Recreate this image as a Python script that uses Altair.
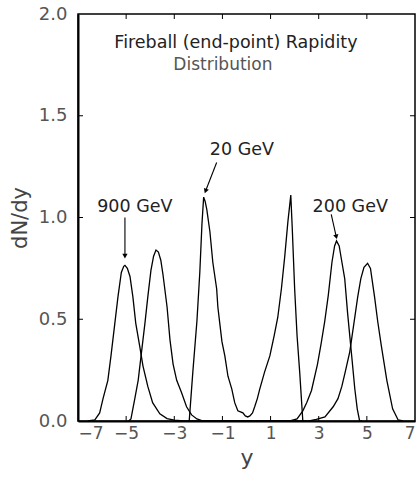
import altair as alt
import pandas as pd

# ---- curve data (rapidity y, dN/dy) ----
x900 = [-6.6, -6.3, -6.1, -5.96, -5.76, -5.63, -5.47, -5.34, -5.2, -5.1, -5.05, -4.95, -4.84, -4.72,
        -4.6, -4.44, -4.3, -4.1, -3.9, -3.6, -3.3, -3.0, -2.6,
        2.6, 2.9, 3.26, 3.6, 3.8, 3.96, 4.1, 4.29, 4.45, 4.62, 4.75, 4.88, 5.03, 5.15, 5.32, 5.45,
        5.6, 5.83, 6.07, 6.3, 6.5]
v900 = [0.0, 0.005, 0.04, 0.11, 0.2, 0.32, 0.48, 0.61, 0.73, 0.76, 0.765, 0.75, 0.71, 0.61,
        0.48, 0.37, 0.27, 0.17, 0.09, 0.035, 0.012, 0.004, 0.0,
        0.0, 0.008, 0.02, 0.07, 0.11, 0.17, 0.24, 0.34, 0.47, 0.61, 0.7, 0.755, 0.775, 0.75, 0.61, 0.49,
        0.37, 0.2, 0.06, 0.005, 0.0]

x200 = [-4.9, -4.8, -4.64, -4.5, -4.38, -4.22, -4.1, -3.97, -3.86, -3.76, -3.66, -3.56, -3.47, -3.3,
        -3.18, -3.05, -2.9, -2.7, -2.49, -2.28, -2.06, -1.8,
        1.8, 2.1, 2.34, 2.5, 2.7, 2.95, 3.1, 3.25, 3.4, 3.55, 3.66, 3.74, 3.85, 3.95, 4.08, 4.2,
        4.37, 4.5, 4.6, 4.7, 4.8]
v200 = [0.0, 0.01, 0.11, 0.2, 0.32, 0.48, 0.61, 0.74, 0.81, 0.84, 0.83, 0.79, 0.72, 0.56,
        0.40, 0.28, 0.2, 0.14, 0.07, 0.03, 0.01, 0.0,
        0.0, 0.01, 0.05, 0.09, 0.15, 0.28, 0.38, 0.49, 0.62, 0.78, 0.86, 0.885, 0.86, 0.79, 0.70, 0.53,
        0.32, 0.157, 0.06, 0.0, 0.0]

x20 = [-2.4, -2.38, -2.23, -2.06, -1.94, -1.85, -1.78, -1.72, -1.65, -1.52, -1.4, -1.24, -1.19, -1.1,
       -1.02, -0.9, -0.77, -0.61, -0.49, -0.36, -0.25, -0.15, -0.05, 0.05, 0.14, 0.25, 0.34, 0.45,
       0.55, 0.75, 0.97, 1.15, 1.3, 1.45, 1.59, 1.72, 1.84, 1.9, 2.0, 2.1, 2.21, 2.34, 2.4]
v20 = [0.0, 0.0, 0.24, 0.49, 0.73, 0.97, 1.10, 1.08, 1.04, 0.93, 0.78, 0.65, 0.56, 0.47,
       0.39, 0.32, 0.22, 0.157, 0.09, 0.05, 0.045, 0.04, 0.025, 0.02, 0.025, 0.04, 0.07, 0.11,
       0.157, 0.24, 0.32, 0.42, 0.51, 0.65, 0.81, 0.98, 1.11, 0.95, 0.65, 0.42, 0.24, 0.0, 0.0]

# ---- axes ----
x_tick_labels = [-7, -5, -3, -1, 1, 3, 5, 7]
x_inner_ticks = [-5, -3, -1, 1, 3, 5]
y_tick_labels = [0.0, 0.5, 1.0, 1.5, 2.0]
y_inner_ticks = [0.5, 1.0, 1.5]

# ---- annotations ----
title_text = ["Fireball (end-point) Rapidity", "Distribution"]
title_x = [-0.44, -0.98]
title_y = [1.857, 1.75]

label_text = ["900 GeV", "20 GeV", "200 GeV"]
label_x = [-4.64, -0.19, 4.31]
label_y = [1.05, 1.33, 1.05]
arrow_x = [-5.05, -1.24, 3.52]
arrow_y = [1.0, 1.27, 1.015]
arrow_x2 = [-5.05, -1.70, 3.73]
arrow_y2 = [0.81, 1.13, 0.905]
arrow_angle = [0, 21, 347]

W, H = 337, 407
FONT = "DejaVu Sans"

rows = []
for name, xs, vs in [("900 GeV", x900, v900), ("200 GeV", x200, v200), ("20 GeV", x20, v20)]:
    for i, (a, b) in enumerate(zip(xs, vs)):
        rows.append({"series": name, "y": a, "dndy": b, "i": i})
curves = pd.DataFrame(rows)

xs = alt.Scale(domain=[-7, 7], nice=False, zero=False)
ys = alt.Scale(domain=[0, 2], nice=False)

lines = alt.Chart(curves).mark_line(color="black", strokeWidth=1.3, clip=True).encode(
    x=alt.X("y:Q", scale=xs,
            axis=alt.Axis(values=x_tick_labels, format="d", ticks=False, grid=False,
                          domainColor="black", domainWidth=2, labelFont=FONT, labelFontSize=17,
                          labelColor="#555", labelPadding=4, title="y", titleFont=FONT,
                          titleFontSize=22, titleFontWeight="normal", titleColor="#444",
                          titlePadding=6)),
    y=alt.Y("dndy:Q", scale=ys,
            axis=alt.Axis(values=y_tick_labels, format=".1f", ticks=False, grid=False,
                          domainColor="black", domainWidth=2, labelFont=FONT, labelFontSize=18,
                          labelColor="#555", labelPadding=11, title="dN/dy", titleFont=FONT,
                          titleFontSize=21, titleFontWeight="normal", titleColor="#444",
                          titlePadding=8)),
    detail="series:N",
    order="i:Q",
)

xt = pd.DataFrame({"t": x_inner_ticks})
yt = pd.DataFrame({"t": y_inner_ticks})
tick_b = alt.Chart(xt).mark_rule(color="black", strokeWidth=1).encode(
    x=alt.X("t:Q", scale=xs), y=alt.value(H), y2=alt.value(H - 5))
tick_t = alt.Chart(xt).mark_rule(color="black", strokeWidth=1).encode(
    x=alt.X("t:Q", scale=xs), y=alt.value(0), y2=alt.value(5))
tick_l = alt.Chart(yt).mark_rule(color="black", strokeWidth=1).encode(
    y=alt.Y("t:Q", scale=ys), x=alt.value(0), x2=alt.value(5))
tick_r = alt.Chart(yt).mark_rule(color="black", strokeWidth=1).encode(
    y=alt.Y("t:Q", scale=ys), x=alt.value(W), x2=alt.value(W - 5))

tdf = pd.DataFrame({"text": title_text, "x": title_x, "y": title_y,
                    "size": [17.5, 17], "col": ["#222", "#555"]})
titles = alt.Chart(tdf).mark_text(font=FONT, align="center", baseline="middle").encode(
    x=alt.X("x:Q", scale=xs), y=alt.Y("y:Q", scale=ys), text="text:N",
    size=alt.Size("size:Q", scale=None), color=alt.Color("col:N", scale=None))

ldf = pd.DataFrame({"text": label_text, "x": label_x, "y": label_y,
                    "ax": arrow_x, "ay": arrow_y, "ax2": arrow_x2, "ay2": arrow_y2,
                    "ang": arrow_angle})
labels = alt.Chart(ldf).mark_text(font=FONT, fontSize=17.5, color="#222", align="center",
                                  baseline="middle").encode(
    x=alt.X("x:Q", scale=xs), y=alt.Y("y:Q", scale=ys), text="text:N")
shafts = alt.Chart(ldf).mark_rule(color="black", strokeWidth=1.1).encode(
    x=alt.X("ax:Q", scale=xs), y=alt.Y("ay:Q", scale=ys), x2="ax2:Q", y2="ay2:Q")
heads = alt.Chart(ldf).mark_point(shape="triangle-down", filled=True, color="black",
                                  size=28, opacity=1).encode(
    x=alt.X("ax2:Q", scale=xs), y=alt.Y("ay2:Q", scale=ys),
    angle=alt.Angle("ang:Q", scale=None))

chart = alt.layer(lines, tick_b, tick_t, tick_l, tick_r, titles, labels, shafts, heads).properties(
    width=W, height=H,
    autosize=alt.AutoSizeParams(type="none"),
    padding={"left": 78, "top": 14, "right": 4, "bottom": 58},
    background="white",
).configure_view(stroke="black", strokeWidth=1.5)

chart.save("out.html", embed_options={"renderer": "svg", "actions": False})
